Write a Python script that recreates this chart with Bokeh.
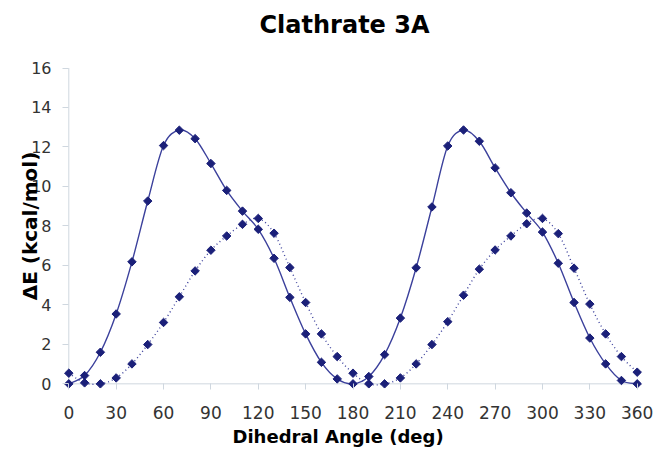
import math
from bokeh.plotting import figure
from bokeh.models import Range1d, FixedTicker, Title
from bokeh.embed import file_html
from bokeh.resources import INLINE

# ---- data ----
angles = [0, 10, 20, 30, 40, 50, 60, 70, 80, 90, 100, 110, 120, 130, 140, 150, 160, 170,
          180, 190, 200, 210, 220, 230, 240, 250, 260, 270, 280, 290, 300, 310, 320, 330,
          340, 350, 360]
solid_energy = [0.0, 0.42, 1.60, 3.54, 6.18, 9.26, 12.07, 12.85, 12.42, 11.16, 9.80, 8.75,
                7.83, 6.36, 4.38, 2.53, 1.09, 0.25, 0.0, 0.37, 1.48, 3.33, 5.88, 8.96, 12.05,
                12.86, 12.29, 10.94, 9.68, 8.65, 7.69, 6.11, 4.12, 2.32, 1.01, 0.17, 0.0]
dotted_energy = [0.54, 0.05, 0.0, 0.30, 1.01, 1.99, 3.11, 4.41, 5.72, 6.77, 7.49, 8.08,
                 8.38, 7.63, 5.89, 4.12, 2.53, 1.38, 0.54, 0.0, 0.0, 0.30, 1.01, 1.99, 3.15,
                 4.49, 5.81, 6.78, 7.49, 8.11, 8.38, 7.61, 5.86, 4.04, 2.53, 1.38, 0.59]
x_ticks = [0, 30, 60, 90, 120, 150, 180, 210, 240, 270, 300, 330, 360]
y_ticks = [0, 2, 4, 6, 8, 10, 12, 14, 16]
title_text = "Clathrate 3A"
x_label = "Dihedral Angle (deg)"
y_label = "\u0394E (kcal/mol)"

FONT = "DejaVu Sans"
LINE_COLOR = "#3c419c"
MARKER_COLOR = "#1b2079"
AXIS_COLOR = "#cfd7df"


def smooth_segments(xs, ys):
    """Bezier control points for a smoothed line through the data (Excel-like)."""
    n = len(xs)
    out = dict(x0=[], y0=[], x1=[], y1=[], cx0=[], cy0=[], cx1=[], cy1=[])
    for i in range(n - 1):
        xa, ya = (xs[i - 1], ys[i - 1]) if i > 0 else (xs[i], ys[i])
        xb, yb = (xs[i + 2], ys[i + 2]) if i + 2 < n else (xs[i + 1], ys[i + 1])
        out["x0"].append(xs[i]); out["y0"].append(ys[i])
        out["x1"].append(xs[i + 1]); out["y1"].append(ys[i + 1])
        out["cx0"].append(xs[i] + (xs[i + 1] - xa) / 6.0)
        out["cy0"].append(ys[i] + (ys[i + 1] - ya) / 6.0)
        out["cx1"].append(xs[i + 1] - (xb - xs[i]) / 6.0)
        out["cy1"].append(ys[i + 1] - (yb - ys[i]) / 6.0)
    return out


p = figure(frame_width=579, frame_height=325,
           min_border_left=63, min_border_right=13, min_border_top=63, min_border_bottom=64,
           x_range=Range1d(-3.36, 363.35), y_range=Range1d(-0.236, 16.228),
           output_backend="svg", toolbar_location=None)
p.outline_line_color = None
p.xgrid.visible = False
p.ygrid.visible = False
p.background_fill_color = "white"
p.border_fill_color = "white"

for ax, ticks in ((p.xaxis[0], x_ticks), (p.yaxis[0], y_ticks)):
    ax.ticker = FixedTicker(ticks=ticks)
    ax.axis_line_color = None
    ax.major_tick_line_color = AXIS_COLOR
    ax.major_tick_in = 5
    ax.major_tick_out = 1
    ax.minor_tick_line_color = None
    ax.major_label_text_font = FONT
    ax.major_label_text_color = "#333333"

p.xaxis.major_label_text_font_size = "17px"
p.xaxis.major_label_standoff = 16
p.yaxis.major_label_text_font_size = "16px"
p.yaxis.major_label_standoff = 11

# y-axis title sits close to (slightly over) the tick labels, as in the reference
p.yaxis.axis_label = y_label
p.yaxis.axis_label_text_font = FONT
p.yaxis.axis_label_text_font_size = "20px"
p.yaxis.axis_label_text_font_style = "bold"
p.yaxis.axis_label_text_color = "#000000"
p.yaxis.axis_label_standoff = -14

# axis lines at zero, spanning the tick range
p.segment(x0=[x_ticks[0], x_ticks[0]], y0=[y_ticks[0], y_ticks[0]],
          x1=[x_ticks[-1], x_ticks[0]], y1=[y_ticks[0], y_ticks[-1]],
          line_color=AXIS_COLOR, line_width=1)

seg_s = smooth_segments(angles, solid_energy)
seg_d = smooth_segments(angles, dotted_energy)
p.bezier(x0=seg_s["x0"], y0=seg_s["y0"], x1=seg_s["x1"], y1=seg_s["y1"],
         cx0=seg_s["cx0"], cy0=seg_s["cy0"], cx1=seg_s["cx1"], cy1=seg_s["cy1"],
         line_color=LINE_COLOR, line_width=1.4)
p.bezier(x0=seg_d["x0"], y0=seg_d["y0"], x1=seg_d["x1"], y1=seg_d["y1"],
         cx0=seg_d["cx0"], cy0=seg_d["cy0"], cx1=seg_d["cx1"], cy1=seg_d["cy1"],
         line_color=LINE_COLOR, line_width=1.4, line_dash="1 3")

p.scatter(angles, solid_energy, marker="square", angle=math.pi / 4, size=6,
          fill_color=MARKER_COLOR, line_color=MARKER_COLOR)
p.scatter(angles, dotted_energy, marker="square", angle=math.pi / 4, size=6,
          fill_color=MARKER_COLOR, line_color=MARKER_COLOR)

# spacer between plot frame and the chart title, then the title itself
p.add_layout(Title(text=" ", text_font=FONT, text_font_size="1px", standoff=19), "above")
p.add_layout(Title(text=title_text, align="left", offset=196, standoff=6,
                   text_font=FONT, text_font_size="24px", text_font_style="bold",
                   text_color="#000000"), "above")
p.add_layout(Title(text=x_label, align="left", offset=169, standoff=4,
                   text_font=FONT, text_font_size="18px", text_font_style="bold",
                   text_color="#000000"), "below")

open("out.html", "w").write(file_html(p, INLINE))
